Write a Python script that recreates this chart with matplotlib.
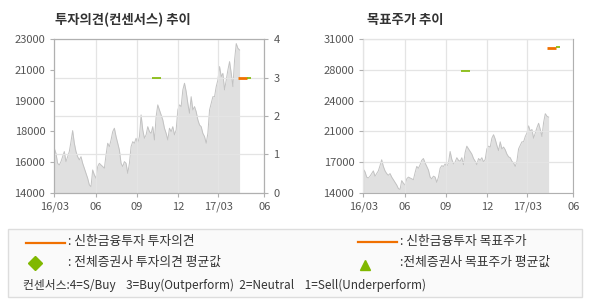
import numpy as np
import pandas as pd
import matplotlib
matplotlib.use('Agg')
import matplotlib.pyplot as plt
from matplotlib.patches import Rectangle
from matplotlib.lines import Line2D

plt.rcParams['font.family'] = ['Noto Sans CJK KR', 'DejaVu Sans']

# daily close (approx)
price = [16600, 16310, 15720, 15620, 15820, 16110, 16410, 15820, 16110, 16410,
         16990, 17640, 16900, 16410, 16110, 15920, 16110, 15720, 15430, 15130,
         14840, 14450, 14350, 15330, 15040, 14840, 15530, 15720, 15620, 15530,
         15430, 16210, 16900, 16700, 17090, 17580, 17780, 17290, 16900, 16500,
         15720, 15530, 15820, 15720, 15130, 15720, 16700, 16990, 16900, 17190,
         16900, 17290, 18560, 17680, 17190, 17390, 17870, 17580, 17480, 17870,
         17090, 18460, 19150, 18850, 18560, 18270, 17780, 17480, 17090, 17780,
         17580, 17870, 17390, 17680, 18850, 19150, 19050, 20030, 20420, 19930,
         19240, 18660, 19630, 18850, 19050, 18750, 18270, 17970, 17870, 17480,
         17290, 16900, 17480, 18850, 19240, 19630, 19630, 20220, 20610, 21400,
         20810, 21000, 20030, 20610, 21200, 21690, 21000, 20220, 21790, 22750,
         22470, 22370]
dates = pd.date_range('2016-03-01', '2017-04-17', periods=len(price))

# consensus / target price segments: (start, end, value)
shinhan_opinion = [('2017-04-14', '2017-05-04', 3)]
avg_opinion = [('2016-10-04', '2016-10-24', 3), ('2017-05-04', '2017-05-12', 3)]
shinhan_target = [('2017-04-14', '2017-05-04', 30000)]
avg_target = [('2016-10-04', '2016-10-24', 27500), ('2017-05-04', '2017-05-12', 30100)]

xtick_dates = ['2016-03-01', '2016-06-01', '2016-09-01', '2016-12-01', '2017-03-01', '2017-06-11']
xtick_labels = ['16/03', '06', '09', '12', '17/03', '06']
left_yticks = np.linspace(14000, 23000, 6)
left_ylabels = ['14000', '16000', '18000', '19000', '21000', '23000']
opinion_ticks = [0, 1, 2, 3, 4]
right_yticks = np.linspace(14000, 31000, 6)
right_ylabels = ['14000', '17000', '21000', '24000', '28000', '31000']

ORANGE = '#f07000'
GREEN = '#80b800'
FILL = '#e0e0e0'
EDGE = '#c2c2c2'
GRID = '#e4e4e4'
SPINE = '#b0b0b0'
TXT = '#555555'
TS = 8

fig = plt.figure(figsize=(5.9, 3.0), dpi=100)


def style(ax):
    for s in ax.spines.values():
        s.set_color(SPINE)
        s.set_linewidth(0.8)
    ax.tick_params(colors=SPINE, labelcolor=TXT, labelsize=TS, length=3, width=0.8)
    ax.set_xlim(pd.Timestamp('2016-03-01'), pd.Timestamp('2017-06-11'))
    ax.set_xticks(pd.to_datetime(xtick_dates))
    ax.set_xticklabels(xtick_labels)
    ax.xaxis.grid(True, color=GRID, lw=0.9)
    ax.set_axisbelow(False)


def segs(ax, items, color, lw):
    for a, b, v in items:
        ax.plot(pd.to_datetime([a, b]), [v, v], color=color, lw=lw, solid_capstyle='butt', zorder=5)


# left chart
ax1 = fig.add_axes([0.092, 0.358, 0.356, 0.511])
ax1.fill_between(dates, price, 14000, color=FILL, lw=0, zorder=1)
ax1.plot(dates, price, color=EDGE, lw=0.7, zorder=2)
ax1.set_ylim(14000, 23000)
ax1.set_yticks(left_yticks)
ax1.set_yticklabels(left_ylabels)
style(ax1)
ax2 = ax1.twinx()
ax2.set_ylim(0, 4)
ax2.set_yticks(opinion_ticks)
ax2.yaxis.grid(True, color=GRID, lw=0.9)
for s in ax2.spines.values():
    s.set_color(SPINE)
    s.set_linewidth(0.8)
ax2.tick_params(colors=SPINE, labelcolor=TXT, labelsize=TS, length=3, width=0.8)
segs(ax2, shinhan_opinion, ORANGE, 2.0)
segs(ax2, avg_opinion, GREEN, 1.2)

# right chart
ax3 = fig.add_axes([0.6158, 0.358, 0.356, 0.511])
ax3.fill_between(dates, price, 14000, color=FILL, lw=0, zorder=1)
ax3.plot(dates, price, color=EDGE, lw=0.7, zorder=2)
ax3.set_ylim(14000, 31000)
ax3.set_yticks(right_yticks)
ax3.set_yticklabels(right_ylabels)
ax3.yaxis.grid(True, color=GRID, lw=0.9)
style(ax3)
segs(ax3, shinhan_target, ORANGE, 2.0)
segs(ax3, avg_target, GREEN, 1.2)

fig.text(55 / 590, 1 - 20 / 300, '투자의견(컨센서스) 추이', fontsize=9.6, fontweight='bold',
         color='#333333', va='center')
fig.text(367 / 590, 1 - 20 / 300, '목표주가 추이', fontsize=9.6, fontweight='bold',
         color='#333333', va='center')

# legend box
fig.patches.append(Rectangle((8 / 590, 1 - 297 / 300), 574 / 590, 68 / 300, transform=fig.transFigure,
                             facecolor='#fafafa', edgecolor='#dddddd', lw=1))


def fx(x):
    return x / 590


def fy(y):
    return 1 - y / 300


lt = dict(fontsize=9.2, color='#333333', va='center')
fig.lines.append(Line2D([fx(26), fx(65)], [fy(242.5)] * 2, color=ORANGE, lw=1.6, transform=fig.transFigure))
fig.text(fx(68), fy(242), ': 신한금융투자 투자의견', **lt)
fig.lines.append(Line2D([fx(35)], [fy(262.5)], marker='D', ms=7, color=GREEN, lw=0, transform=fig.transFigure))
fig.text(fx(68), fy(262), ': 전체증권사 투자의견 평균값', **lt)
fig.lines.append(Line2D([fx(358), fx(397)], [fy(241.5)] * 2, color=ORANGE, lw=1.6, transform=fig.transFigure))
fig.text(fx(400), fy(241), ': 신한금융투자 목표주가', **lt)
fig.lines.append(Line2D([fx(365)], [fy(265)], marker='^', ms=6.5, color=GREEN, lw=0, transform=fig.transFigure))
fig.text(fx(400), fy(262), ':전체증권사 목표주가 평균값', **lt)
fig.text(fx(23), fy(285), '컨센서스:4=S/Buy    3=Buy(Outperform)  2=Neutral    1=Sell(Underperform)',
         fontsize=8.5, color='#333333', va='center')

fig.savefig('out.png', dpi=100)
